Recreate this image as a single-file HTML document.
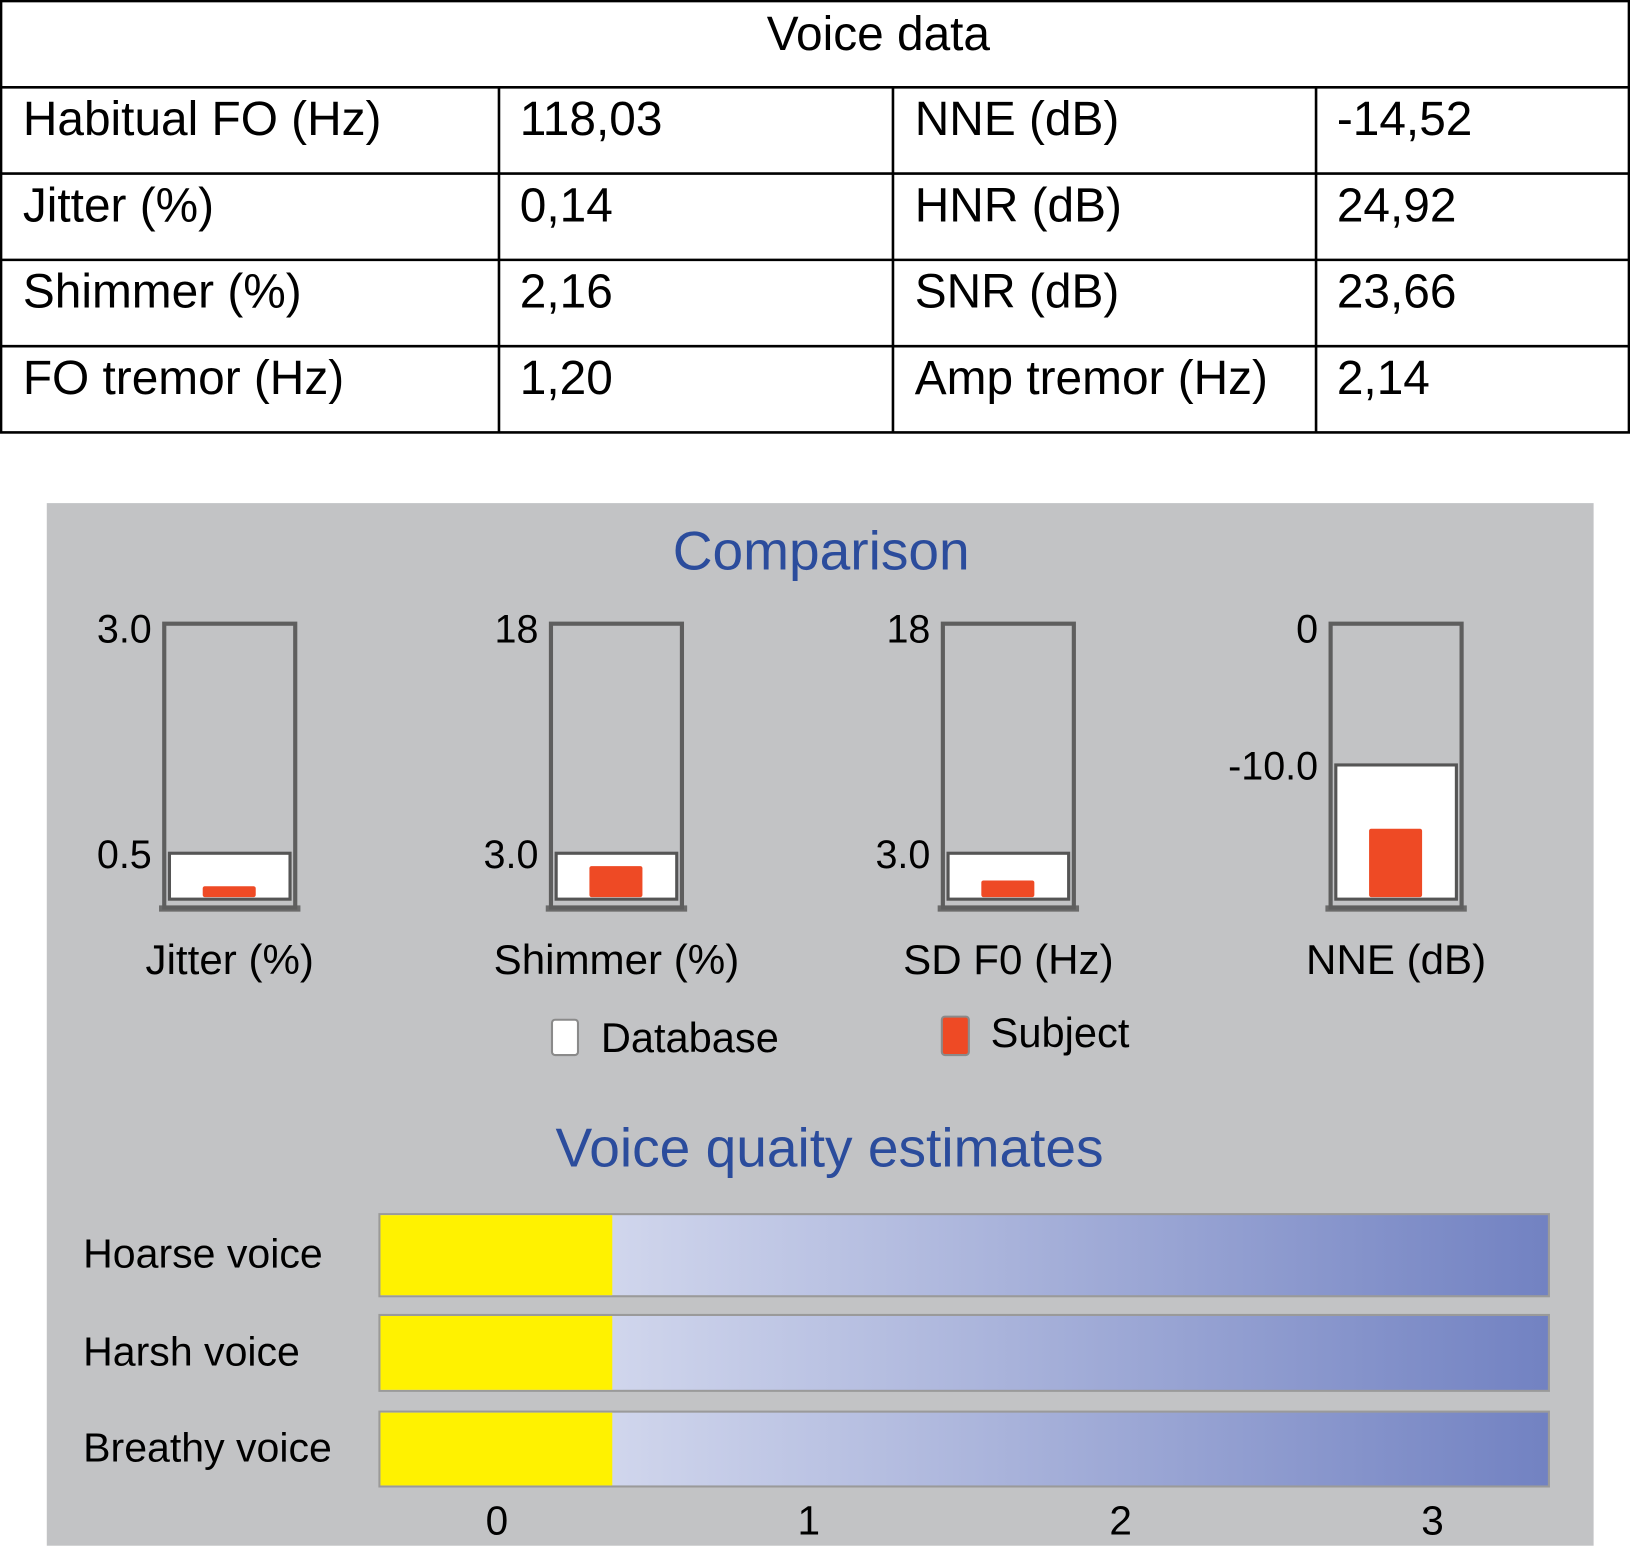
<!DOCTYPE html>
<html><head><meta charset="utf-8">
<style>
html,body{margin:0;padding:0;background:#fff;}
svg{display:block;font-family:"Liberation Sans",Arial,sans-serif;}
</style></head>
<body>
<svg id="chart" width="1630" height="1553" viewBox="0 0 1568 1494" preserveAspectRatio="none" xmlns="http://www.w3.org/2000/svg">
<defs>
<linearGradient id="bargrad" x1="0" x2="1" y1="0" y2="0">
<stop offset="0" stop-color="#dfe3f2"/><stop offset="0.15" stop-color="#d6dbef"/><stop offset="1" stop-color="#7282c2"/>
</linearGradient>
</defs>
<g id="table" stroke="#000" stroke-width="2.5" fill="none">
<rect x="1" y="1" width="1566" height="415"/>
<line x1="0" y1="84" x2="1568" y2="84"/>
<line x1="0" y1="167" x2="1568" y2="167"/>
<line x1="0" y1="250" x2="1568" y2="250"/>
<line x1="0" y1="333" x2="1568" y2="333"/>
<line x1="480" y1="84" x2="480" y2="416"/>
<line x1="859" y1="84" x2="859" y2="416"/>
<line x1="1266" y1="84" x2="1266" y2="416"/>
</g>
<g font-size="46" fill="#000">
<text x="845" y="48" text-anchor="middle">Voice data</text>
<text x="22" y="130">Habitual FO (Hz)</text>
<text x="500" y="130">118,03</text>
<text x="880" y="130">NNE (dB)</text>
<text x="1286" y="130">-14,52</text>
<text x="22" y="213">Jitter (%)</text>
<text x="500" y="213">0,14</text>
<text x="880" y="213">HNR (dB)</text>
<text x="1286" y="213">24,92</text>
<text x="22" y="296">Shimmer (%)</text>
<text x="500" y="296">2,16</text>
<text x="880" y="296">SNR (dB)</text>
<text x="1286" y="296">23,66</text>
<text x="22" y="379">FO tremor (Hz)</text>
<text x="500" y="379">1,20</text>
<text x="880" y="379">Amp tremor (Hz)</text>
<text x="1286" y="379">2,14</text>
</g>
<rect x="45" y="484" width="1488" height="1003" fill="#c2c3c5"/>
<text x="790" y="548" font-size="53" fill="#2b4c9c" text-anchor="middle">Comparison</text>
<g id="gauges"></g>
<g>
<rect x="531" y="981" width="25" height="34" rx="3" fill="#fff" stroke="#8a8a8a" stroke-width="2"/>
<text x="578" y="1012" font-size="40">Database</text>
<rect x="906" y="978" width="26" height="37" rx="3" fill="#ee4a25" stroke="#8a8a8a" stroke-width="2"/>
<text x="953" y="1007" font-size="40">Subject</text>
</g>
<text x="798" y="1122" font-size="53" fill="#2b4c9c" text-anchor="middle">Voice quaity estimates</text>
<g id="quality"></g>
<script>
var gaugeNames = ["Jitter (%)", "Shimmer (%)", "SD F0 (Hz)", "NNE (dB)"];
var gaugeMax = [3.0, 18, 18, 0];
var gaugeMin = [0, 0, 0, -19.5];
var gaugeMaxLabels = ["3.0", "18", "18", "0"];
var databaseNorm = [0.5, 3.0, 3.0, -10.0];
var databaseLabels = ["0.5", "3.0", "3.0", "-10.0"];
var subjectValues = [0.14, 2.16, 1.22, -14.52];

var qualityNames = ["Hoarse voice", "Harsh voice", "Breathy voice"];
var qualityValues = [0.37, 0.37, 0.37];
var qualityTicks = [0, 1, 2, 3];

var NS = "http://www.w3.org/2000/svg";
function mk(tag, attrs, parent, txt) {
  var e = document.createElementNS(NS, tag);
  for (var k in attrs) e.setAttribute(k, attrs[k]);
  if (txt !== undefined) e.textContent = txt;
  parent.appendChild(e);
  return e;
}
var gx = [158, 530, 907, 1280];
var gTop = 600, gBot = 865, gW = 126;
var gg = document.getElementById("gauges");
for (var i = 0; i < gaugeNames.length; i++) {
  var x0 = gx[i];
  var yS = (function (mn, mx) { return function (v) { return gBot - (v - mn) / (mx - mn) * (gBot - gTop); }; })(gaugeMin[i], gaugeMax[i]);
  var g = mk("g", {}, gg);
  
  
  var sh = mk("rect", { x: x0 - 5, y: gBot + 6, width: gW + 10, height: 6, fill: "#6a6a6a" }, g);
  
  
  var fr = mk("rect", { x: x0, y: gTop, width: gW, height: gBot - gTop + 8, fill: "#c2c3c5", stroke: "#5e5e5e", "stroke-width": 4 }, g);
  
  
  var dy = yS(databaseNorm[i]);
  var db = mk("rect", { x: x0 + 5, y: dy, width: gW - 10, height: gBot - dy, fill: "#fff", stroke: "#555", "stroke-width": 3 }, g);
  
  
  var sy = yS(subjectValues[i]);
  var sb = mk("rect", { x: x0 + 37, y: sy, width: 51, height: gBot - 2 - sy, fill: "#ee4a25", rx: 2 }, g);
  
  
  var t1 = mk("text", { x: x0 - 12, y: gTop + 18, "font-size": 38, "text-anchor": "end" }, g, gaugeMaxLabels[i]);
  
  
  var t2 = mk("text", { x: x0 - 12, y: dy + 14, "font-size": 38, "text-anchor": "end" }, g, databaseLabels[i]);
  
  
  var t3 = mk("text", { x: x0 + gW / 2, y: 937, "font-size": 40.5, "text-anchor": "middle" }, g, gaugeNames[i]);
  
  
}
var qx = function (v) { return 478 + v * 300; };
var barX0 = 366, barX1 = 1489;
var barY = [1169, 1266, 1359], barH = [77, 71, 70];
var qg = document.getElementById("quality");
for (var j = 0; j < qualityNames.length; j++) {
  var g2 = mk("g", {}, qg);
  
  
  var tr = mk("rect", { x: barX0 - 2, y: barY[j] - 2, width: barX1 - barX0 + 4, height: barH[j] + 4, fill: "#9a9a9a" }, g2);
  
  
  var bg = mk("rect", { x: barX0, y: barY[j], width: barX1 - barX0, height: barH[j], fill: "url(#bargrad)" }, g2);
  
  
  var yb = mk("rect", { x: barX0, y: barY[j], width: qx(qualityValues[j]) - barX0, height: barH[j], fill: "#fff200" }, g2);
  
  
  var lb = mk("text", { x: 80, y: barY[j] + barH[j] / 2 + 12, "font-size": 39.5 }, g2, qualityNames[j]);
  
  
}
for (var k = 0; k < qualityTicks.length; k++) {
  var tt = mk("text", { x: qx(qualityTicks[k]), y: 1476, "font-size": 39, "text-anchor": "middle" }, qg, String(qualityTicks[k]));
  
  
}
</script>
</svg>
</body></html>
